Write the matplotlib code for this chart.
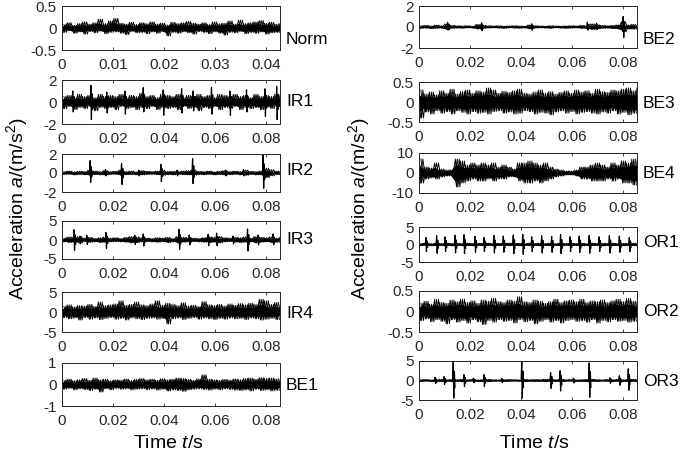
import matplotlib.pyplot as plt
import numpy as np

plt.rcParams["font.family"] = "Liberation Sans"
plt.rcParams["mathtext.fontset"] = "custom"
plt.rcParams["mathtext.rm"] = "Liberation Sans"
plt.rcParams["mathtext.it"] = "Liberation Sans:italic"
plt.rcParams["axes.unicode_minus"] = False

# envelope of each record (upper / lower), evenly spaced over the record
norm_hi = [0.08, 0.12, 0.06, 0.10, 0.14, 0.09, 0.12, 0.20, 0.10, 0.16, 0.22, 0.11, 0.09, 0.13, 0.08,
           0.12, 0.10, 0.14, 0.09, 0.11, 0.07, 0.13, 0.10, 0.12, 0.15, 0.11, 0.09, 0.12, 0.08, 0.14,
           0.10, 0.11, 0.16, 0.09, 0.18, 0.10, 0.12, 0.14, 0.17, 0.11, 0.13, 0.09, 0.10]
norm_lo = [-0.10, -0.06, -0.12, -0.09, -0.14, -0.08, -0.11, -0.07, -0.13, -0.10, -0.09, -0.12, -0.15,
           -0.08, -0.11, -0.10, -0.13, -0.09, -0.12, -0.08, -0.18, -0.10, -0.12, -0.09, -0.11, -0.14,
           -0.08, -0.10, -0.13, -0.09, -0.12, -0.16, -0.10, -0.11, -0.08, -0.13, -0.10, -0.12, -0.09,
           -0.14, -0.11, -0.10, -0.12]

ir1_hi = [0.5, 0.6, 0.4, 0.7, 0.5, 0.6, 0.4, 0.7, 0.5, 0.6, 0.5, 0.7, 0.4, 0.6, 0.5, 0.8, 0.5, 0.6,
          0.4, 0.7, 0.6, 0.5, 0.7, 0.4, 0.6, 0.5, 0.7, 0.5, 0.6, 0.4, 0.7, 0.6, 0.5, 0.7, 0.5, 0.6,
          0.4, 0.7, 0.5, 0.6, 0.5, 0.7, 0.6]
ir1_lo = [-0.6, -0.4, -0.7, -0.5, -0.6, -0.4, -0.8, -0.5, -0.6, -0.5, -0.7, -0.4, -0.6, -0.5, -0.7,
          -0.5, -0.6, -0.4, -0.7, -0.5, -0.6, -0.5, -0.7, -0.4, -0.6, -0.5, -0.8, -0.5, -0.6, -0.4,
          -0.7, -0.5, -0.6, -0.4, -0.7, -0.5, -0.6, -0.5, -0.7, -0.5, -0.6, -0.4, -0.7]

ir2_hi = [0.15, 0.2, 0.12, 0.18, 0.15, 0.3, 0.2, 0.15, 0.25, 0.15, 0.18, 0.3, 0.15, 0.2, 0.12, 0.25,
          0.18, 0.15, 0.2, 0.3, 0.15, 0.18, 0.12, 0.2, 0.25, 0.3, 0.18, 0.15, 0.2, 0.12, 0.18, 0.25,
          0.15, 0.2, 0.15, 0.3, 0.18, 0.15, 0.2, 0.5, 0.35, 0.2, 0.15]
ir2_lo = [-0.15, -0.12, -0.2, -0.15, -0.18, -0.25, -0.15, -0.2, -0.2, -0.15, -0.12, -0.25, -0.18,
          -0.15, -0.2, -0.2, -0.15, -0.12, -0.18, -0.25, -0.15, -0.2, -0.12, -0.18, -0.2, -0.25,
          -0.15, -0.18, -0.12, -0.2, -0.15, -0.2, -0.18, -0.12, -0.2, -0.25, -0.15, -0.2, -0.18,
          -0.5, -0.3, -0.15, -0.2]

ir3_hi = [0.5, 0.8, 0.6, 0.9, 0.5, 0.7, 0.4, 0.6, 0.8, 0.5, 0.6, 0.4, 0.7, 0.9, 0.8, 0.6, 0.5, 0.4,
          0.6, 0.5, 0.7, 0.4, 0.9, 0.7, 0.6, 0.5, 0.4, 0.6, 0.8, 0.7, 0.9, 0.6, 0.5, 0.7, 0.6, 0.8,
          0.5, 0.9, 0.7, 0.6, 0.8, 0.5, 0.7]
ir3_lo = [-0.5, -0.7, -0.6, -0.8, -0.4, -0.6, -0.5, -0.7, -0.6, -0.5, -0.4, -0.5, -0.6, -0.8, -0.7,
          -0.5, -0.4, -0.5, -0.6, -0.4, -0.7, -0.5, -0.8, -0.6, -0.5, -0.4, -0.5, -0.6, -0.7, -0.6,
          -0.8, -0.5, -0.4, -0.6, -0.7, -0.6, -0.5, -0.8, -0.6, -0.5, -0.7, -0.6, -0.5]

ir4_hi = [1.4, 1.8, 1.3, 1.6, 1.5, 1.9, 1.4, 2.5, 1.6, 1.8, 2.0, 2.8, 1.7, 1.9, 2.5, 1.8, 1.6, 2.0,
          2.8, 1.7, 2.2, 1.9, 1.6, 2.3, 1.5, 1.7, 1.4, 2.6, 1.8, 1.6, 1.9, 1.5, 2.0, 1.7, 2.1, 1.8,
          2.2, 1.9, 3.2, 2.8, 1.9, 2.4, 1.8]
ir4_lo = [-1.4, -1.7, -1.5, -2.0, -1.4, -1.8, -1.5, -1.9, -1.6, -1.4, -1.8, -1.6, -2.0, -1.5, -1.7,
          -1.9, -1.6, -1.5, -1.8, -1.6, -3.0, -1.7, -1.5, -1.9, -1.6, -1.4, -1.8, -1.5, -1.7, -1.9,
          -1.6, -1.8, -1.5, -1.7, -1.6, -1.9, -1.5, -1.7, -2.0, -1.8, -1.6, -1.9, -1.5]

be1_hi = [0.20, 0.25, 0.18, 0.22, 0.28, 0.20, 0.30, 0.22, 0.25, 0.18, 0.22, 0.20, 0.26, 0.19, 0.24,
          0.28, 0.22, 0.25, 0.20, 0.27, 0.22, 0.25, 0.30, 0.28, 0.24, 0.20, 0.26, 0.45, 0.25, 0.22,
          0.20, 0.24, 0.21, 0.26, 0.22, 0.28, 0.30, 0.25, 0.32, 0.28, 0.30, 0.26, 0.22]
be1_lo = [-0.22, -0.18, -0.25, -0.20, -0.24, -0.28, -0.22, -0.35, -0.20, -0.25, -0.18, -0.22, -0.20,
          -0.25, -0.22, -0.20, -0.24, -0.21, -0.26, -0.22, -0.30, -0.25, -0.28, -0.32, -0.25, -0.22,
          -0.20, -0.24, -0.26, -0.22, -0.25, -0.20, -0.23, -0.26, -0.28, -0.25, -0.30, -0.22, -0.28,
          -0.25, -0.30, -0.27, -0.24]

be2_hi = [0.12, 0.15, 0.10, 0.18, 0.12, 0.30, 0.15, 0.12, 0.10, 0.12, 0.08, 0.25, 0.15, 0.12, 0.10,
          0.12, 0.08, 0.10, 0.12, 0.10, 0.08, 0.20, 0.12, 0.10, 0.08, 0.12, 0.10, 0.08, 0.10, 0.12,
          0.10, 0.15, 0.12, 0.30, 0.20, 0.15, 0.12, 0.15, 0.20, 0.50, 0.20, 0.25, 0.15]
be2_lo = [-0.12, -0.10, -0.15, -0.12, -0.10, -0.25, -0.12, -0.10, -0.12, -0.08, -0.10, -0.20, -0.12,
          -0.10, -0.08, -0.10, -0.12, -0.08, -0.10, -0.12, -0.08, -0.18, -0.10, -0.08, -0.10, -0.12,
          -0.08, -0.10, -0.12, -0.10, -0.08, -0.12, -0.15, -0.25, -0.18, -0.12, -0.10, -0.15, -0.18,
          -0.45, -0.20, -0.20, -0.15]

be3_hi = [0.30, 0.20, 0.25, 0.18, 0.28, 0.22, 0.32, 0.20, 0.26, 0.30, 0.22, 0.28, 0.25, 0.35, 0.30,
          0.22, 0.27, 0.24, 0.28, 0.32, 0.22, 0.20, 0.25, 0.30, 0.22, 0.26, 0.20, 0.24, 0.28, 0.22,
          0.30, 0.25, 0.28, 0.22, 0.32, 0.26, 0.24, 0.30, 0.28, 0.32, 0.35, 0.28, 0.35]
be3_lo = [-0.40, -0.25, -0.30, -0.22, -0.28, -0.24, -0.30, -0.22, -0.26, -0.30, -0.24, -0.28, -0.26,
          -0.30, -0.24, -0.22, -0.28, -0.25, -0.30, -0.28, -0.22, -0.24, -0.30, -0.26, -0.28, -0.32,
          -0.25, -0.22, -0.28, -0.24, -0.30, -0.26, -0.24, -0.28, -0.30, -0.25, -0.28, -0.22, -0.30,
          -0.26, -0.32, -0.28, -0.35]

be4_hi = [7, 3, 2.5, 5, 2, 1.5, 1.5, 7, 6, 4, 5, 4, 5, 4, 5, 3, 4, 3, 2, 5, 5, 6, 5, 4, 5, 3, 2,
          1.5, 1, 1, 1.5, 3, 3, 4, 5, 4, 3, 5, 4, 6, 5, 7, 6]
be4_lo = [-5, -3, -2.5, -3, -2, -1.5, -1.5, -7, -5, -4, -3, -4, -4, -3, -4, -3, -3, -2, -2, -4, -5,
          -5, -4, -5, -4, -3, -2, -1.5, -1, -1, -1.5, -3, -3, -4, -4, -4, -3, -4, -3, -5, -5, -6, -7]

or1_hi = [0.3, 0.4, 0.25, 0.35, 0.3, 0.4, 0.3, 0.35, 0.25, 0.4, 0.3, 0.35, 0.3, 0.4, 0.25, 0.35,
          0.3, 0.4, 0.3, 0.35, 0.25, 0.4, 0.3, 0.35, 0.3, 0.4, 0.25, 0.35, 0.3, 0.4, 0.3, 0.35, 0.25,
          0.4, 0.3, 0.35, 0.3, 0.4, 0.25, 0.35, 0.3, 0.4, 0.3]
or1_lo = [-0.3, -0.25, -0.4, -0.3, -0.35, -0.25, -0.4, -0.3, -0.35, -0.3, -0.4, -0.25, -0.35, -0.3,
          -0.4, -0.3, -0.25, -0.35, -0.3, -0.4, -0.3, -0.35, -0.25, -0.4, -0.3, -0.35, -0.3, -0.4,
          -0.25, -0.35, -0.3, -0.4, -0.3, -0.35, -0.25, -0.4, -0.3, -0.35, -0.3, -0.4, -0.25, -0.35,
          -0.3]

or2_hi = [0.20, 0.25, 0.18, 0.30, 0.22, 0.20, 0.28, 0.24, 0.30, 0.22, 0.26, 0.20, 0.28, 0.25, 0.32,
          0.24, 0.22, 0.28, 0.25, 0.36, 0.24, 0.22, 0.28, 0.25, 0.20, 0.24, 0.30, 0.22, 0.26, 0.28,
          0.24, 0.30, 0.22, 0.26, 0.24, 0.28, 0.22, 0.26, 0.30, 0.24, 0.32, 0.25, 0.22]
or2_lo = [-0.22, -0.18, -0.25, -0.20, -0.24, -0.30, -0.20, -0.26, -0.22, -0.28, -0.20, -0.25, -0.32,
          -0.22, -0.26, -0.20, -0.24, -0.22, -0.28, -0.20, -0.25, -0.22, -0.30, -0.24, -0.20, -0.26,
          -0.22, -0.28, -0.22, -0.20, -0.24, -0.22, -0.26, -0.20, -0.28, -0.22, -0.25, -0.20, -0.24,
          -0.22, -0.26, -0.24, -0.22]

or3_hi = [0.2, 0.25, 0.15, 0.2, 0.3, 0.2, 0.25, 0.2, 0.3, 0.2, 0.25, 0.15, 0.2, 0.3, 0.2, 0.15, 0.2,
          0.25, 0.2, 0.15, 0.3, 0.2, 0.25, 0.2, 0.3, 0.25, 0.2, 0.3, 0.2, 0.25, 0.15, 0.2, 0.25, 0.3,
          0.2, 0.15, 0.25, 0.2, 0.3, 0.2, 0.25, 0.3, 0.2]
or3_lo = [-0.2, -0.15, -0.25, -0.2, -0.3, -0.2, -0.25, -0.2, -0.3, -0.2, -0.15, -0.25, -0.2, -0.3,
          -0.2, -0.15, -0.25, -0.2, -0.15, -0.2, -0.3, -0.2, -0.25, -0.2, -0.3, -0.2, -0.25, -0.3,
          -0.2, -0.15, -0.25, -0.2, -0.3, -0.2, -0.25, -0.15, -0.2, -0.3, -0.2, -0.25, -0.3, -0.2,
          -0.2]

# impacts (time, peak, trough)
ir1_spk_t = [0.0042, 0.0113, 0.0175, 0.0246, 0.0318, 0.0396, 0.0468, 0.0513, 0.0585, 0.0657,
             0.0722, 0.0794, 0.0840]
ir1_spk_hi = [1.0, 1.5, 0.9, 1.0, 1.3, 1.1, 1.2, 1.0, 1.3, 1.0, 1.1, 1.2, 1.4]
ir1_spk_lo = [-0.9, -1.6, -1.0, -1.1, -0.9, -1.2, -1.0, -0.8, -1.1, -1.2, -0.9, -1.3, -1.6]

ir2_spk_t = [0.0110, 0.0170, 0.0233, 0.0300, 0.0387, 0.0450, 0.0511, 0.0640, 0.0710, 0.0787]
ir2_spk_hi = [1.3, 0.35, 1.0, 0.3, 0.9, 0.3, 1.5, 0.3, 0.35, 1.9]
ir2_spk_lo = [-1.0, -0.3, -1.2, -0.3, -0.9, -0.3, -1.1, -0.3, -0.3, -1.6]

ir3_spk_t = [0.0047, 0.0070, 0.0097, 0.0172, 0.0285, 0.0318, 0.0458, 0.0498, 0.0572, 0.0605,
             0.0669, 0.0726, 0.0767, 0.0826]
ir3_spk_hi = [2.7, 1.0, 1.2, 2.0, 1.2, 1.6, 2.8, 1.3, 1.5, 1.8, 1.0, 2.9, 1.3, 1.6]
ir3_spk_lo = [-2.7, -1.0, -1.2, -2.2, -1.2, -1.6, -2.5, -1.3, -1.5, -1.5, -1.0, -2.9, -1.3, -1.3]

be2_spk_t = [0.0112, 0.0245, 0.0441, 0.0659, 0.0695, 0.0799]
be2_spk_hi = [0.45, 0.4, 0.3, 0.45, 0.35, 1.0]
be2_spk_lo = [-0.3, -0.35, -0.3, -0.3, -0.25, -1.0]

or1_spk_t = [0.0027, 0.0069, 0.0102, 0.0141, 0.0176, 0.0219, 0.0254, 0.0293, 0.0330, 0.0369,
             0.0406, 0.0441, 0.0480, 0.0519, 0.0554, 0.0591, 0.0627, 0.0666, 0.0705, 0.0745,
             0.0784, 0.0823]
or1_spk_hi = [2.0, 2.5, 2.2, 2.6, 2.8, 2.3, 2.0, 2.6, 2.4, 2.7, 2.9, 2.2, 2.5, 2.3, 2.8, 2.2,
              2.4, 2.6, 2.2, 2.5, 2.4, 2.0]
or1_spk_lo = [-2.0, -2.5, -2.0, -2.4, -2.6, -2.2, -2.0, -2.4, -2.2, -2.6, -2.8, -2.0, -2.4, -2.2,
              -2.6, -2.0, -2.3, -2.5, -2.0, -2.4, -2.2, -2.0]

or3_spk_t = [0.0063, 0.0098, 0.0134, 0.0176, 0.0213, 0.0254, 0.0324, 0.0402, 0.0515, 0.0552,
             0.0604, 0.0666, 0.0747, 0.0784, 0.0819]
or3_spk_hi = [0.8, 1.0, 4.8, 1.5, 0.6, 1.5, 0.5, 4.8, 2.0, 2.5, 0.6, 4.5, 0.7, 1.2, 3.0]
or3_spk_lo = [-0.8, -1.0, -4.5, -1.5, -0.6, -1.5, -0.5, -4.5, -2.0, -2.7, -0.6, -4.3, -0.7, -1.2, -2.5]

W, H = 685, 454
T_FULL = 0.0853
T_HALF = 0.0427

# name, hi, lo, spikes, tmax, ylim, xticks, (x0, x1, y0, y1) px, label y px
panels = [
    ("Norm", norm_hi, norm_lo, None, T_HALF, 0.5, [0, 0.01, 0.02, 0.03, 0.04], (62, 280, 6, 50), 40),
    ("IR1", ir1_hi, ir1_lo, (ir1_spk_t, ir1_spk_hi, ir1_spk_lo), T_FULL, 2, None, (62, 280, 80, 124), 102),
    ("IR2", ir2_hi, ir2_lo, (ir2_spk_t, ir2_spk_hi, ir2_spk_lo), T_FULL, 2, None, (62, 280, 154, 192), 171),
    ("IR3", ir3_hi, ir3_lo, (ir3_spk_t, ir3_spk_hi, ir3_spk_lo), T_FULL, 5, None, (62, 280, 221, 259), 240),
    ("IR4", ir4_hi, ir4_lo, None, T_FULL, 5, None, (62, 280, 292, 332), 313),
    ("BE1", be1_hi, be1_lo, None, T_FULL, 1, None, (62, 280, 363, 406), 385),
    ("BE2", be2_hi, be2_lo, (be2_spk_t, be2_spk_hi, be2_spk_lo), T_FULL, 2, None, (419, 637, 6, 48), 40),
    ("BE3", be3_hi, be3_lo, None, T_FULL, 0.5, None, (419, 637, 82, 122), 103),
    ("BE4", be4_hi, be4_lo, None, T_FULL, 10, None, (419, 637, 153, 193), 174),
    ("OR1", or1_hi, or1_lo, (or1_spk_t, or1_spk_hi, or1_spk_lo), T_FULL, 5, None, (419, 637, 227, 262), 242),
    ("OR2", or2_hi, or2_lo, None, T_FULL, 0.5, None, (419, 637, 291, 332), 312),
    ("OR3", or3_hi, or3_lo, (or3_spk_t, or3_spk_hi, or3_spk_lo), T_FULL, 5, None, (419, 637, 361, 400), 382),
]


def fmt(v):
    return "0" if v == 0 else f"{v:g}"


def zigzag(t, first, second):
    # alternate between the two envelopes so the trace reads as a dense waveform
    dt = t[1] - t[0]
    x = np.column_stack([t, t + dt / 2]).ravel()
    y = np.column_stack([first, second]).ravel()
    return x, y


fig = plt.figure(figsize=(W / 100, H / 100), dpi=100)

for name, hi, lo, spikes, tmax, ylim, xticks, box, label_y in panels:
    x0, x1, y0, y1 = box
    ax = fig.add_axes([x0 / W, 1 - y1 / H, (x1 - x0) / W, (y1 - y0) / H])

    t = np.linspace(0, tmax, len(hi))
    dt = t[1] - t[0]
    hi_a = np.asarray(hi)
    lo_a = np.asarray(lo)
    # solid core of the band
    ax.fill_between(t, lo_a * 0.6, hi_a * 0.6, color="black", linewidth=0)
    # interleaved traces reaching out to the envelope
    for shift, a, b in [(0.0, hi_a, lo_a), (dt / 4, lo_a, hi_a), (dt * 3 / 8, hi_a, lo_a)]:
        x, y = zigzag(t + shift, a, b)
        keep = x <= tmax
        ax.plot(x[keep], y[keep], color="black", linewidth=0.65)
    if spikes is not None:
        st, sh, sl = spikes
        for ti, h, l in zip(st, sh, sl):
            ax.plot([ti - dt * 0.12, ti, ti + dt * 0.1, ti + dt * 0.22, ti + dt * 0.34],
                    [0, h, l, h * 0.5, l * 0.4], color="black", linewidth=0.9)

    ax.set_xlim(0, tmax)
    ax.set_ylim(-ylim, ylim)
    if xticks is None:
        xticks = [0, 0.02, 0.04, 0.06, 0.08]
    ax.set_xticks(xticks)
    ax.set_xticklabels([fmt(v) for v in xticks])
    yticks = [-ylim, 0, ylim]
    ax.set_yticks(yticks)
    ax.set_yticklabels([fmt(v) for v in yticks])

    ax.tick_params(direction="in", top=True, right=True, length=2.5, width=0.6,
                   labelsize=11, colors="#262626")
    ax.tick_params(axis="x", pad=6)
    ax.tick_params(axis="y", pad=4)
    for spine in ax.spines.values():
        spine.set_linewidth(0.7)
        spine.set_color("#262626")

    fig.text((x1 + 6) / W, 1 - label_y / H, name, fontsize=12.5, ha="left", va="center")

ylabel = "Acceleration $a$/(m/s$^2$)"
fig.text(17 / W, 1 - 209 / H, ylabel, rotation=90, fontsize=14, ha="center", va="center")
fig.text(359 / W, 1 - 209 / H, ylabel, rotation=90, fontsize=14, ha="center", va="center")
fig.text(168 / W, 1 - 443 / H, "Time $t$/s", fontsize=14, ha="center", va="center")
fig.text(534 / W, 1 - 443 / H, "Time $t$/s", fontsize=14, ha="center", va="center")

fig.savefig("out.png", dpi=100)
